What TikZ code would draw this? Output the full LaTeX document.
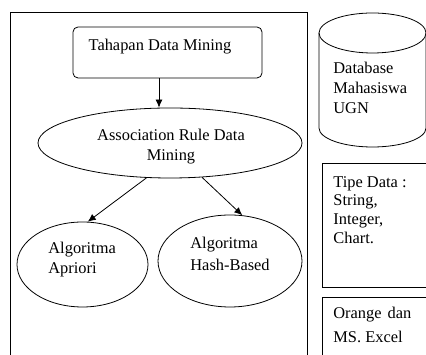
\documentclass[tikz,border=0pt]{standalone}
\usepackage{fontspec}
\setmainfont{Liberation Serif}
\usetikzlibrary{arrows.meta,shapes.geometric}

\begin{document}
\begin{tikzpicture}[x=1pt,y=1pt,line width=0.8pt,
  txt/.style={inner sep=0pt,align=left,font=\fontsize{16.4}{20}\selectfont},
  oval/.style={draw,ellipse,inner sep=0pt},
  arr/.style={-{Latex[length=8pt,width=7pt]}}]
  \clip (0,0) rectangle (426,355);
  \begin{scope}
    % kotak kiri
    \draw (10,-5) -- (10,343) -- (307.5,343) -- (307.5,-5);

    \node[draw,rounded corners=5pt,minimum width=189pt,minimum height=51pt] (tahapan) at (167.5,302.5) {};
    \node[txt] (tahapanText) at (160,308) {Tahapan Data Mining};

    \node[oval,minimum width=264pt,minimum height=70pt] (assoc) at (170,212) {};
    \node[txt,align=center] (assocText) at (171,208) {Association Rule Data\\Mining};

    \node[oval,minimum width=131pt,minimum height=85pt] (apriori) at (82.5,90.5) {};
    \node[txt,anchor=west] (aprioriText) at (48,95) {Algoritma\\Apriori};

    \node[oval,minimum width=144pt,minimum height=92pt] (hash) at (230,94) {};
    \node[txt,anchor=west,font=\fontsize{16.4}{22}\selectfont] (hashText) at (190,101.5) {Algoritma\\Hash-Based};

    \draw[arr] ([xshift=-8.5pt]tahapan.south) -- ([xshift=-8.5pt]tahapan.south |- assoc.north);
    \draw[arr] (assoc.236) -- (apriori.83);
    \draw[arr] (assoc.313) -- (hash.75);
  \end{scope}

  \begin{scope}
    % database
    \draw (372.5,322) ellipse [x radius=53.5, y radius=20];
    \draw (319,322) -- (319,227) arc [start angle=180, end angle=360, x radius=53.5, y radius=19] -- (426,322);
    \node[txt,anchor=west] (dbText) at (333,267) {Database\\Mahasiswa\\UGN};

    \draw (322,68) rectangle (440,192);
    \node[txt,anchor=west,font=\fontsize{16.4}{18.7}\selectfont] (tipeText) at (333,145) {Tipe Data :\\String,\\Integer,\\Chart.};

    \draw (322,-10) rectangle (440,58);
    \node[txt,anchor=west,font=\fontsize{16.4}{24}\selectfont] (toolText) at (333,30) {Orange\hspace{6pt}dan\\MS. Excel};
  \end{scope}
\end{tikzpicture}
\end{document}
